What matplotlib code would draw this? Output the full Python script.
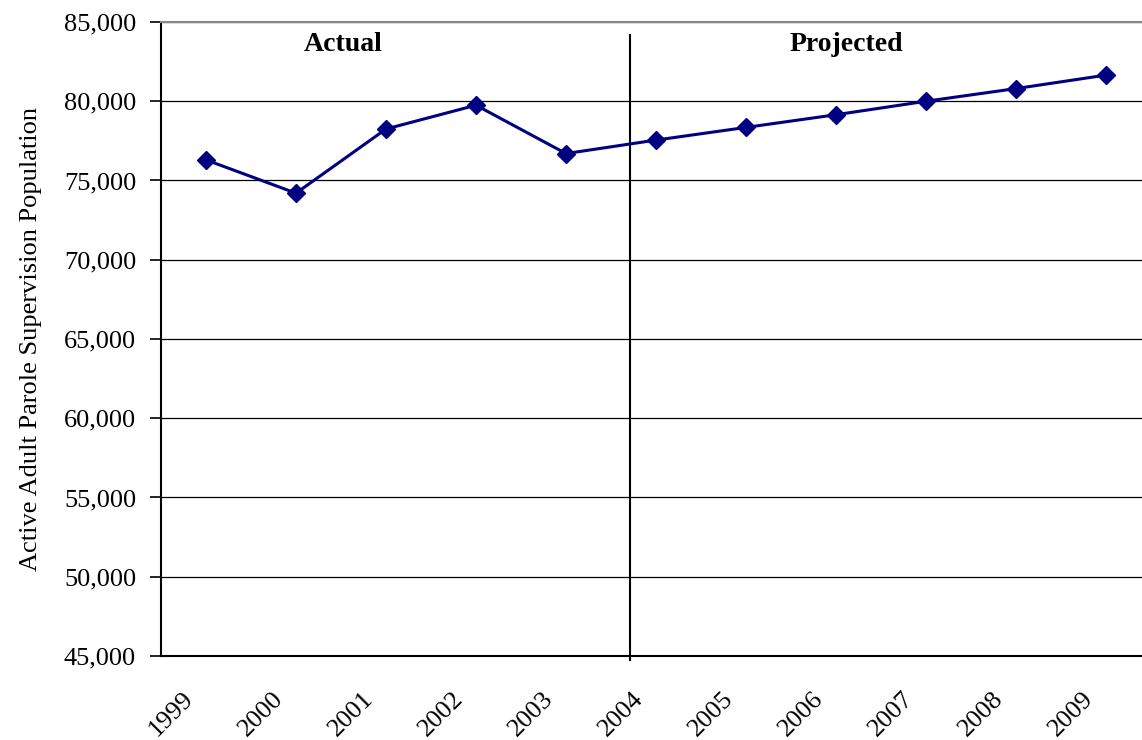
import matplotlib
matplotlib.use("Agg")
import matplotlib.pyplot as plt
from matplotlib.ticker import FuncFormatter
from matplotlib.transforms import ScaledTranslation

years = ["1999", "2000", "2001", "2002", "2003", "2004",
         "2005", "2006", "2007", "2008", "2009"]
population = [76300, 74200, 78250, 79750, 76700, 77550,
              78350, 79150, 80000, 80800, 81650]
section_labels = ["Actual", "Projected"]
y_ticks = [45000, 50000, 55000, 60000, 65000, 70000, 75000, 80000, 85000]

plt.rcParams["font.family"] = ["Liberation Serif", "DejaVu Serif"]

fig = plt.figure(figsize=(11.42, 7.40), dpi=100)
ax = fig.add_axes([161 / 1142, 84 / 740, (1142 - 161) / 1142, 634 / 740])

x = list(range(len(years)))
ax.plot(x, population, color="#000080", linewidth=2.2, marker="D",
        markersize=9, markerfacecolor="#000080", markeredgecolor="#000080",
        zorder=5, clip_on=False)

ax.set_xlim(-0.5, 10.4)
ax.set_ylim(45000, 85000)
ax.set_yticks(y_ticks)
ax.yaxis.set_major_formatter(FuncFormatter(lambda v, p: f"{int(v):,}"))
ax.grid(axis="y", color="#000000", linewidth=0.9)
ax.set_axisbelow(True)

ax.set_xticks(x)
ax.set_xticklabels(years, rotation=45, ha="right", va="center",
                   rotation_mode="anchor", fontsize=19)
ax.tick_params(axis="x", length=0, pad=29)
shift = ScaledTranslation(-16 / 100, 1 / 100, fig.dpi_scale_trans)
for lbl in ax.get_xticklabels():
    lbl.set_transform(lbl.get_transform() + shift)
ax.tick_params(axis="y", length=8, width=1.2, labelsize=19, pad=10,
               direction="out")

ax.spines["right"].set_visible(False)
ax.spines["top"].set_color("#888888")
ax.spines["top"].set_linewidth(1.5)
ax.spines["left"].set_linewidth(1.5)
ax.spines["bottom"].set_linewidth(1.5)

# divider between actual and projected periods
ax.plot([4.71, 4.71], [84200, 44750], color="black", linewidth=1.5,
        clip_on=False, zorder=4)

ax.text(1.52, 83600, section_labels[0], ha="center", va="center",
        fontsize=20, fontweight="bold")
ax.text(7.12, 83600, section_labels[1], ha="center", va="center",
        fontsize=20, fontweight="bold")

ax.set_ylabel("Active Adult Parole Supervision Population", fontsize=19,
              labelpad=16)

fig.savefig("out.png", dpi=100)
